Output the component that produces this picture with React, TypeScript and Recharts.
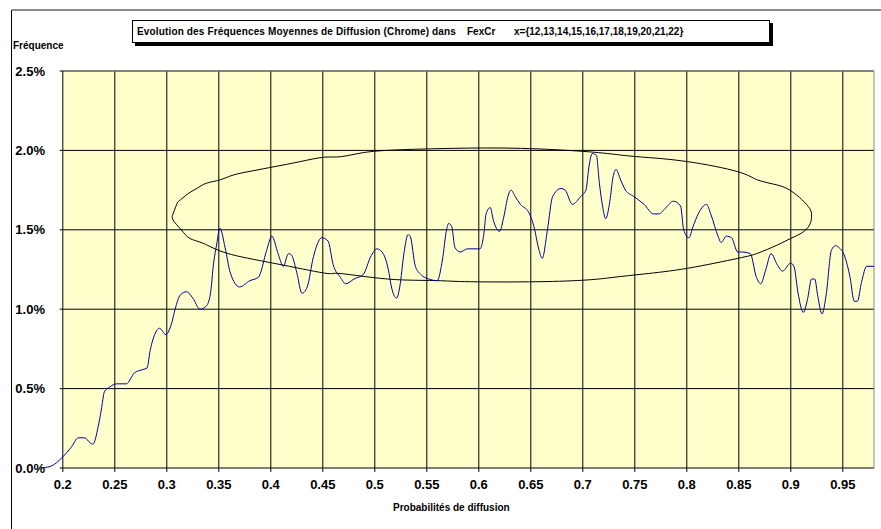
import React from 'react';
import { LineChart, Line, XAxis, YAxis, ReferenceArea, ReferenceLine } from 'recharts';

// diffusion probability (x) and mean frequency in % (y)
const probX = [
  0.178, 0.188, 0.2, 0.208, 0.215, 0.221, 0.226, 0.229, 0.234, 0.237, 0.24, 0.245, 0.252, 0.261, 0.269,
  0.277, 0.281, 0.284, 0.289, 0.293, 0.299, 0.305, 0.308, 0.313, 0.319, 0.325, 0.332, 0.338, 0.342, 0.345,
  0.348, 0.351, 0.356, 0.361, 0.37, 0.38, 0.388, 0.396, 0.401, 0.407, 0.412, 0.417, 0.42, 0.425, 0.43,
  0.435, 0.441, 0.449, 0.455, 0.46, 0.467, 0.472, 0.48, 0.489, 0.496, 0.502, 0.507, 0.513, 0.516, 0.521,
  0.524, 0.528, 0.532, 0.534, 0.539, 0.544, 0.552, 0.56, 0.565, 0.569, 0.571, 0.574, 0.577, 0.582, 0.589,
  0.601, 0.605, 0.607, 0.611, 0.614, 0.62, 0.624, 0.628, 0.631, 0.635, 0.64, 0.648, 0.653, 0.658, 0.661,
  0.666, 0.671, 0.679, 0.683, 0.69, 0.698, 0.703, 0.706, 0.709, 0.713, 0.716, 0.719, 0.722, 0.726, 0.729,
  0.732, 0.736, 0.741, 0.749, 0.759, 0.768, 0.773, 0.78, 0.787, 0.794, 0.797, 0.802, 0.806, 0.811, 0.819,
  0.823, 0.83, 0.833, 0.838, 0.843, 0.849, 0.853, 0.861, 0.867, 0.871, 0.876, 0.881, 0.887, 0.892, 0.9,
  0.903, 0.907, 0.912, 0.916, 0.92, 0.923, 0.926, 0.93, 0.934, 0.939, 0.943, 0.946, 0.952, 0.957, 0.961,
  0.964, 0.968, 0.973, 0.98,
];
const freqPct = [
  0.0, 0.01, 0.07, 0.13, 0.19, 0.19, 0.16, 0.15, 0.26, 0.365, 0.48, 0.51, 0.53, 0.53, 0.6,
  0.62, 0.63, 0.74, 0.85, 0.88, 0.84, 0.92, 1.0, 1.09, 1.11, 1.07, 1.0, 1.02, 1.1, 1.29,
  1.41, 1.51, 1.39, 1.23, 1.14, 1.18, 1.2, 1.37, 1.46, 1.35, 1.27, 1.35, 1.34, 1.23, 1.1,
  1.14, 1.33, 1.45, 1.43, 1.28, 1.2, 1.16, 1.19, 1.22, 1.33, 1.38, 1.36, 1.25, 1.14, 1.07,
  1.14, 1.35, 1.47, 1.46, 1.27, 1.22, 1.19, 1.18, 1.31, 1.5, 1.54, 1.52, 1.39, 1.36, 1.38,
  1.38, 1.48, 1.6, 1.64, 1.56, 1.49, 1.58, 1.71, 1.75, 1.71, 1.66, 1.61, 1.52, 1.37, 1.32,
  1.5, 1.71, 1.76, 1.75, 1.66, 1.71, 1.75, 1.9, 1.98, 1.97, 1.79, 1.65, 1.57, 1.68, 1.83,
  1.88, 1.82, 1.75, 1.71, 1.66, 1.6, 1.6, 1.64, 1.68, 1.65, 1.5, 1.45, 1.52, 1.6, 1.66,
  1.6, 1.46, 1.42, 1.46, 1.45, 1.36, 1.36, 1.35, 1.2, 1.16, 1.25, 1.35, 1.28, 1.24, 1.29,
  1.27, 1.1, 0.98, 1.06, 1.19, 1.19, 1.08, 0.97, 1.09, 1.37, 1.4, 1.39, 1.33, 1.2, 1.05,
  1.05, 1.17, 1.27, 1.27,
];

// hand-drawn ellipse outline (x, %)
const ovalX = [
  0.306, 0.31, 0.313, 0.321, 0.329, 0.338, 0.351, 0.364, 0.383, 0.403, 0.428, 0.451, 0.467, 0.489, 0.521,
  0.576, 0.64, 0.704, 0.736, 0.759, 0.801, 0.849, 0.868, 0.887, 0.9, 0.911, 0.918, 0.92, 0.918, 0.91,
  0.9, 0.887, 0.868, 0.849, 0.801, 0.759, 0.73, 0.704, 0.656, 0.592, 0.56, 0.528, 0.496, 0.464, 0.451,
  0.403, 0.358, 0.335, 0.322, 0.314, 0.306, 0.306,
];
const ovalY = [
  1.6, 1.667, 1.688, 1.73, 1.761, 1.793, 1.814, 1.845, 1.872, 1.897, 1.929, 1.957, 1.96, 1.986, 2.003,
  2.013, 2.013, 1.992, 1.971, 1.957, 1.929, 1.866, 1.814, 1.782, 1.746, 1.688, 1.635, 1.593, 1.53, 1.478,
  1.446, 1.404, 1.352, 1.32, 1.258, 1.222, 1.201, 1.184, 1.173, 1.173, 1.18, 1.184, 1.201, 1.226, 1.228,
  1.289, 1.352, 1.415, 1.446, 1.499, 1.562, 1.6,
];

const xTicks = [0.2, 0.25, 0.3, 0.35, 0.4, 0.45, 0.5, 0.55, 0.6, 0.65, 0.7, 0.75, 0.8, 0.85, 0.9, 0.95];
const yTicks = [0, 0.5, 1, 1.5, 2, 2.5];

const curve = probX.map((x, i) => ({ x, f: freqPct[i] }));
const oval = ovalX.map((x, i) => ({ x, f: ovalY[i] }));

const FONT = 'Arial, "Liberation Sans", sans-serif';

const YTick = ({ x, y, payload }: any) => (
  <text x={x + 11} y={y} textAnchor="end" dominantBaseline="central" fontSize={13} fontWeight="bold" fontFamily={FONT} fill="#000">
    {payload.value.toFixed(1)}%
  </text>
);

export default function App() {
  return (
    <div style={{ position: 'absolute', left: 0, top: 0, width: 881, height: 529, background: '#fff', fontFamily: FONT }}>
      {/* outer frame */}
      <div style={{ position: 'absolute', left: 12, top: 9, width: 869, height: 2, background: '#8a8a8a' }} />
      <div style={{ position: 'absolute', left: 11, top: 10, width: 1, height: 519, background: '#000' }} />

      <div
        style={{
          position: 'absolute', left: 132, top: 20, width: 636, height: 21, border: '1px solid #000',
          boxShadow: '3px 3px 0 #000', background: '#fff', fontSize: 10, fontWeight: 'bold',
          lineHeight: '21px', whiteSpace: 'pre',
        }}
      >
        <span style={{ position: 'absolute', left: 4, letterSpacing: 0.15 }}>Evolution des Fréquences Moyennes de Diffusion (Chrome) dans</span>
        <span style={{ position: 'absolute', left: 334 }}>FexCr</span>
        <span style={{ position: 'absolute', left: 381 }}>{'x={12,13,14,15,16,17,18,19,20,21,22}'}</span>
      </div>
      <div style={{ position: 'absolute', left: 13, top: 40, fontSize: 10, fontWeight: 'bold' }}>Fréquence</div>
      <div style={{ position: 'absolute', left: 393, top: 502, fontSize: 10, fontWeight: 'bold' }}>Probabilités de diffusion</div>

      <div style={{ position: 'absolute', left: 0, top: 0 }}>
        <LineChart width={881} height={529} margin={{ top: 71, right: 7, bottom: 31, left: 12 }} data={curve}>
          <XAxis
            dataKey="x"
            type="number"
            domain={[0.18, 0.98]}
            ticks={xTicks}
            allowDataOverflow
            axisLine={false}
            tickLine={{ stroke: '#000' }}
            tickSize={4}
            tickMargin={8}
            height={30}
            tick={{ fontSize: 13, fontWeight: 'bold', fill: '#000', fontFamily: FONT }}
            tickFormatter={(v) => String(v)}
          />
          <YAxis
            type="number"
            domain={[0, 2.5]}
            ticks={yTicks}
            width={30}
            axisLine={false}
            tickLine={false}
            tick={<YTick />}
          />
          <ReferenceArea x1={0.2} x2={0.98} y1={0} y2={2.5} fill="#ffffcc" fillOpacity={1} stroke="none" />
          {xTicks.slice(1).map((t) => (
            <ReferenceLine key={'v' + t} segment={[{ x: t, y: 0 }, { x: t, y: 2.5 }]} stroke="#000" strokeWidth={1} />
          ))}
          {yTicks.slice(1).map((t) => (
            <ReferenceLine key={'h' + t} segment={[{ x: 0.197, y: t }, { x: 0.98, y: t }]} stroke="#000" strokeWidth={1} />
          ))}
          <ReferenceLine segment={[{ x: 0.2, y: 2.5 }, { x: 0.98, y: 2.5 }]} stroke="#888" />
          <ReferenceLine segment={[{ x: 0.98, y: 0 }, { x: 0.98, y: 2.5 }]} stroke="#888" />
          <ReferenceLine segment={[{ x: 0.2, y: 0 }, { x: 0.2, y: 2.5 }]} stroke="#000" />
          <ReferenceLine segment={[{ x: 0.197, y: 0 }, { x: 0.98, y: 0 }]} stroke="#000" />
          <Line
            data={oval}
            dataKey="f"
            type="natural"
            stroke="#000"
            strokeWidth={1}
            dot={false}
            activeDot={false}
            isAnimationActive={false}
          />
          <Line
            dataKey="f"
            type="monotone"
            stroke="#000099"
            strokeWidth={1}
            dot={false}
            activeDot={false}
            isAnimationActive={false}
          />
        </LineChart>
      </div>
    </div>
  );
}
